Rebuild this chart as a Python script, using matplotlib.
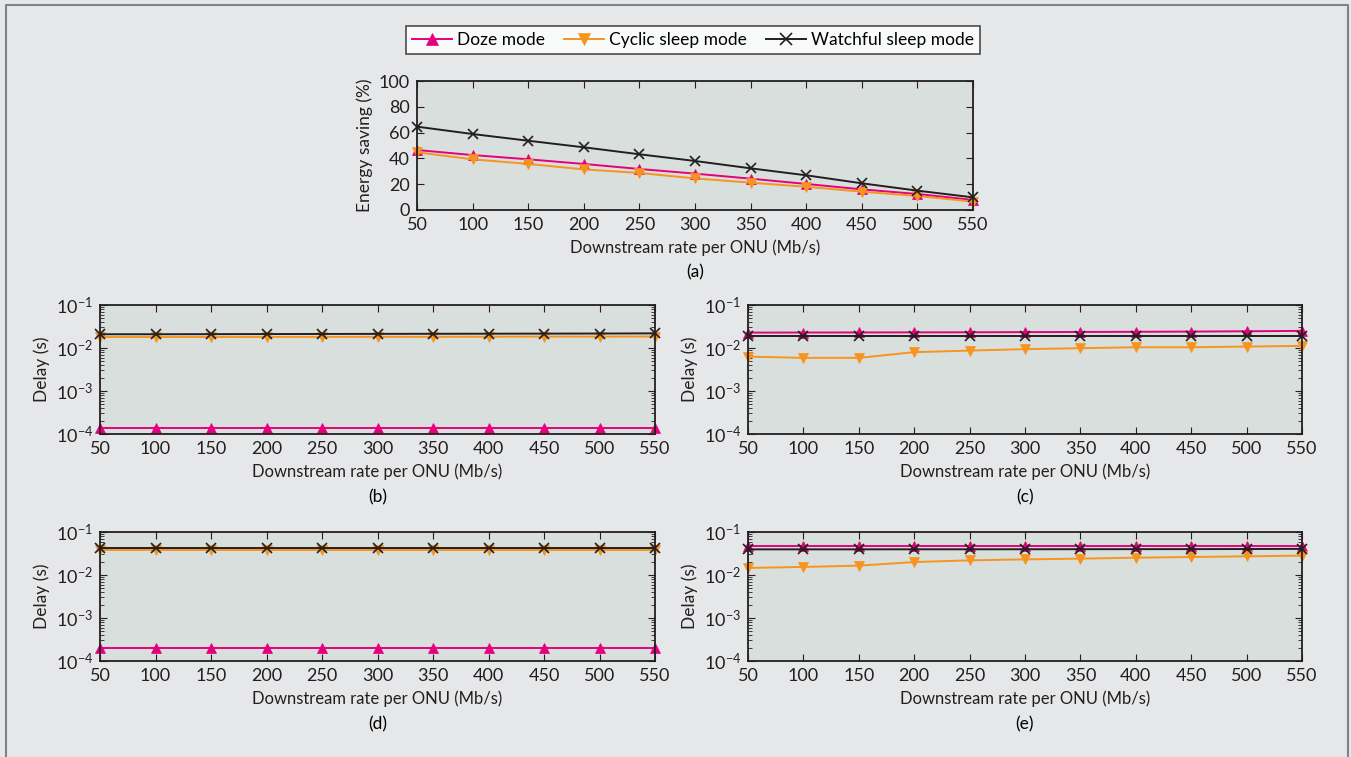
import matplotlib
matplotlib.use("Agg")
import matplotlib.pyplot as plt
from matplotlib.lines import Line2D
from matplotlib.ticker import LogLocator, NullFormatter

plt.rcParams['font.family'] = ['Lato', 'DejaVu Sans']
plt.rcParams['mathtext.fontset'] = 'custom'
plt.rcParams['mathtext.rm'] = 'Lato'
plt.rcParams['mathtext.it'] = 'Lato:italic'
plt.rcParams['font.size'] = 12.5

# data
rates = [50, 100, 150, 200, 250, 300, 350, 400, 450, 500, 550]

saving_doze = [46.5, 42.6, 39.3, 35.7, 31.8, 28.2, 24.3, 20.2, 16.0, 12.4, 7.8]
saving_cyclic = [44.7, 39.3, 35.7, 31.5, 28.7, 24.5, 21.2, 18.0, 14.2, 10.9, 6.5]
saving_watchful = [64.6, 58.9, 53.7, 48.6, 43.2, 38.0, 32.3, 26.9, 20.7, 15.0, 9.8]

delay_b_doze = [1.4e-4] * 11
delay_b_cyclic = [0.0180, 0.0180, 0.0180, 0.0181, 0.0181, 0.0182, 0.0182, 0.0183, 0.0184, 0.0184, 0.0185]
delay_b_watchful = [0.0209, 0.0209, 0.0210, 0.0211, 0.0212, 0.0213, 0.0214, 0.0215, 0.0216, 0.0217, 0.0219]

delay_c_doze = [0.0228, 0.0229, 0.0230, 0.0231, 0.0232, 0.0234, 0.0236, 0.0238, 0.0241, 0.0245, 0.0250]
delay_c_cyclic = [0.0063, 0.0059, 0.0059, 0.0080, 0.0087, 0.0094, 0.0099, 0.0104, 0.0104, 0.0108, 0.0112]
delay_c_watchful = [0.0190] * 11

delay_d_doze = [2.0e-4] * 11
delay_d_cyclic = [0.0375] * 11
delay_d_watchful = [0.0425] * 11

delay_e_doze = [0.0472] * 11
delay_e_cyclic = [0.0146, 0.0154, 0.0165, 0.0200, 0.0219, 0.0231, 0.0240, 0.0253, 0.0262, 0.0272, 0.0282]
delay_e_watchful = [0.0395, 0.0395, 0.0395, 0.0396, 0.0396, 0.0397, 0.0398, 0.0399, 0.0400, 0.0402, 0.0405]

names = ['Doze mode', 'Cyclic sleep mode', 'Watchful sleep mode']
colors = ['#e6007e', '#f7941d', '#231f20']
markers = ['^', 'v', 'x']

W, H = 1351, 757
fig = plt.figure(figsize=(W / 100, H / 100), dpi=100)
fig.patch.set_facecolor('#e6e7e8')


def rect(l, t, r, b):
    return [l / W, 1 - b / H, (r - l) / W, (b - t) / H]


def style(ax):
    ax.set_facecolor('#d9dfdc')
    ax.set_xlim(50, 550)
    ax.set_xticks(rates)
    ax.tick_params(direction='in', which='both', top=True, right=True,
                   labelsize=13, pad=5, colors='#231f20')
    ax.tick_params(which='major', length=5)
    ax.tick_params(which='minor', length=3)
    for s in ax.spines.values():
        s.set_linewidth(1.3)
        s.set_color('#231f20')
    ax.set_xlabel('Downstream rate per ONU (Mb/s)', fontsize=12, labelpad=5, color='#231f20')


def draw(ax, series):
    for vals, c, m in zip(series, colors, markers):
        ax.plot(rates, vals, color=c, marker=m, markersize=7, linewidth=1.4,
                markeredgewidth=1.2 if m == 'x' else 0.5, clip_on=False)


# (a) energy saving
ax_a = fig.add_axes(rect(417, 81, 973, 210))
style(ax_a)
draw(ax_a, [saving_doze, saving_cyclic, saving_watchful])
ax_a.set_ylim(0, 100)
ax_a.set_yticks([0, 20, 40, 60, 80, 100])
ax_a.set_ylabel('Energy saving (%)', fontsize=12.5, color='#231f20')
ax_a.text(0.5, -0.48, '(a)', transform=ax_a.transAxes, ha='center', va='center', fontsize=12.5)

panels = [
    ('(b)', rect(100, 305, 655, 434), [delay_b_doze, delay_b_cyclic, delay_b_watchful]),
    ('(c)', rect(748, 305, 1302, 434), [delay_c_doze, delay_c_cyclic, delay_c_watchful]),
    ('(d)', rect(100, 532, 655, 661), [delay_d_doze, delay_d_cyclic, delay_d_watchful]),
    ('(e)', rect(748, 532, 1302, 661), [delay_e_doze, delay_e_cyclic, delay_e_watchful]),
]
for lab, r, series in panels:
    ax = fig.add_axes(r)
    style(ax)
    ax.set_yscale('log')
    draw(ax, series)
    ax.set_ylim(1e-4, 1e-1)
    ax.yaxis.set_major_locator(LogLocator(base=10, numticks=10))
    ax.yaxis.set_minor_locator(LogLocator(base=10, subs=range(2, 10), numticks=10))
    ax.yaxis.set_minor_formatter(NullFormatter())
    ax.set_ylabel('Delay (s)', fontsize=12.5, color='#231f20')
    ax.text(0.5, -0.49, lab, transform=ax.transAxes, ha='center', va='center', fontsize=12.5)

# legend
handles = [Line2D([], [], color=c, marker=m, markersize=8, linewidth=1.4,
                  markeredgewidth=1.2 if m == 'x' else 0.5)
           for c, m in zip(colors, markers)]
leg = fig.legend(handles, names, ncol=3, loc='center', bbox_to_anchor=(693 / W, 1 - 40 / H),
                 frameon=True, fancybox=False, edgecolor='#231f20', facecolor='white',
                 fontsize=12.5, handlelength=2.3, handletextpad=0.3, columnspacing=1.1,
                 borderpad=0.35)
leg.get_frame().set_linewidth(1.2)

# outer frame (left, top, right)
fig.add_artist(Line2D([6 / W, 6 / W, 1348 / W, 1348 / W], [0, 1 - 5 / H, 1 - 5 / H, 0],
                      color='#808285', linewidth=1.5))

fig.savefig('out.png', dpi=100, facecolor=fig.get_facecolor())
